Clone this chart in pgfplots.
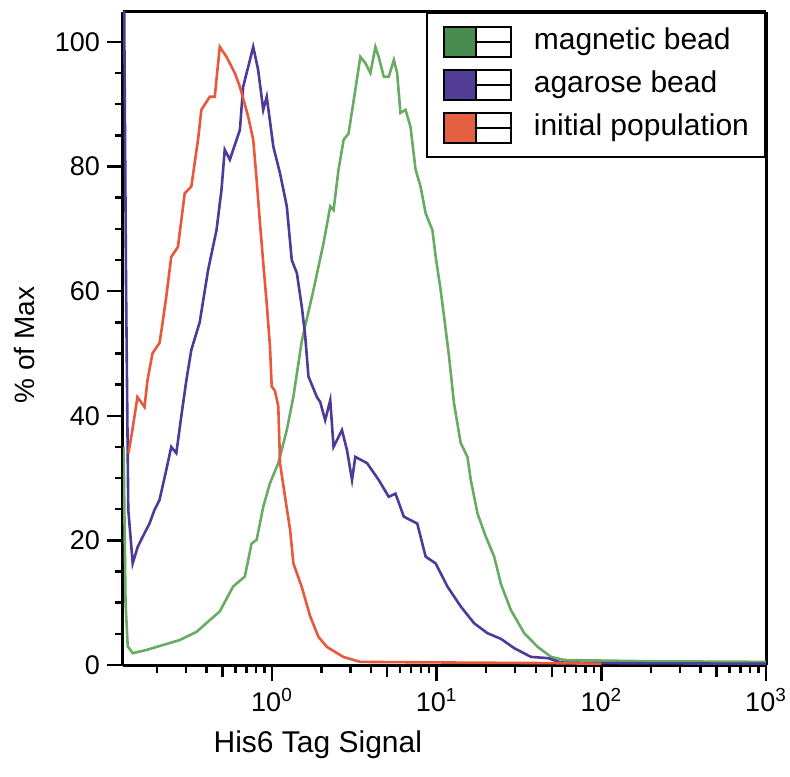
\documentclass[border=0pt]{standalone}
\usepackage{pgfplots}
\pgfplotsset{compat=1.18}
\usepackage{pgfplotstable}
\usepackage{fontspec}
\setmainfont{Liberation Sans}
\definecolor{gcol}{RGB}{104,172,100}
\definecolor{gsw}{RGB}{72,140,80}
\definecolor{bcol}{RGB}{78,58,152}
\definecolor{bsw}{RGB}{82,62,150}
\definecolor{rcol}{RGB}{232,88,58}
\definecolor{rsw}{RGB}{228,96,64}

\pgfplotstableread{
x y
0.1255 35
0.1290 10
0.1330 3
0.1426 1.9
0.1722 2.4
0.2173 3.2
0.2748 4.0
0.3475 5.3
0.4188 7.2
0.4819 8.6
0.5808 12.6
0.6839 14.2
0.7516 19.5
0.8070 20.1
0.8850 25.4
0.9727 29.2
1.092 32.4
1.230 37.7
1.349 43.1
1.517 52.0
1.786 60.2
2.056 67.7
2.258 73.6
2.365 73.0
2.535 79.5
2.723 84.3
2.917 85.3
3.206 92.3
3.440 97.6
3.690 96.6
3.960 95.0
4.246 99.2
4.446 97.6
4.775 94.4
5.117 94.4
5.495 97.1
5.754 95.0
6.026 88.6
6.471 89.1
6.934 86.4
7.447 79.5
7.980 76.8
8.570 72.5
9.419 69.8
9.863 65.5
10.57 60.2
11.09 55.9
11.89 49.5
12.74 42.0
14.00 35.6
15.38 33.4
16.11 29.7
17.71 24.3
19.89 20.6
22.35 17.4
24.55 13.0
28.25 8.8
34.05 5.1
41.11 2.9
49.55 1.3
59.70 0.8
200 0.6
1000 0.5
}\magnetic

\pgfplotstableread{
x y
0.1265 106
0.1300 60
0.1340 25
0.1426 16.3
0.1531 19.0
0.1641 20.6
0.1803 22.7
0.1935 24.9
0.2075 26.5
0.2280 31.3
0.2445 35.0
0.2624 34.0
0.2812 39.9
0.3020 45.7
0.3238 50.6
0.3639 55.0
0.4093 63.4
0.4603 69.8
0.4932 76.2
0.5164 82.7
0.5546 81.1
0.6095 84.3
0.6383 85.9
0.6683 92.8
0.7170 96.0
0.7691 99.2
0.8241 95.5
0.8850 89.1
0.9289 91.2
1.019 83.2
1.119 78.9
1.230 73.6
1.318 65.0
1.416 62.9
1.517 57.5
1.589 53.0
1.665 46.3
1.874 43.0
1.963 42.2
2.104 39.3
2.258 42.5
2.365 35.0
2.661 37.7
2.853 34.5
3.062 29.7
3.206 33.4
3.778 32.4
4.446 29.7
5.117 27.0
5.623 27.5
6.321 23.8
7.624 22.7
8.570 17.4
9.863 16.3
11.62 12.6
14.00 9.4
16.88 6.7
20.37 5.1
24.55 4.2
29.59 2.7
37.41 1.3
47.32 1.1
57.02 0.4
100 0.3
1000 0.2
}\agarose

\pgfplotstableread{
x y
0.1345 34.0
0.1419 37.7
0.1524 43.0
0.1682 41.4
0.1754 45.7
0.1880 50.0
0.2075 51.7
0.2134 53.8
0.2280 59.1
0.2445 65.5
0.2685 67.1
0.2951 75.7
0.3238 76.8
0.3555 84.3
0.3726 89.1
0.4188 91.2
0.4491 91.2
0.4819 99.2
0.5297 97.6
0.5947 95.0
0.6383 92.8
0.7170 88.0
0.7691 84.3
0.8070 77.8
0.8450 71.0
0.8850 64.5
0.9289 58.0
0.9727 51.0
0.9958 44.7
1.042 44.0
1.092 41.5
1.119 32.4
1.200 27.0
1.288 21.7
1.349 16.3
1.517 12.5
1.706 7.8
1.916 4.5
2.156 2.9
2.710 1.3
3.440 0.5
12.17 0.4
49.6 0.3
100 0.2
}\initial

\begin{document}
\begin{tikzpicture}
\begin{axis}[name=ax,
  scale only axis, width=321.5pt, height=326.5pt,
  xmode=log, xmin=0.1245, xmax=1000, ymin=0, ymax=104.8,
  separate axis lines,
  axis line style={line width=1.5pt, black},
  tick pos=left, tick align=outside,
  major tick length=8pt, minor tick length=4pt,
  every tick/.style={black, line width=1.2pt},
  xtick={1,10,100,1000},
  xticklabels={10\textsuperscript{0},10\textsuperscript{1},10\textsuperscript{2},10\textsuperscript{3}},
  minor xtick={0.2,0.3,0.4,0.6,0.7,0.8,0.9,2,3,4,6,7,8,9,20,30,40,60,70,80,90,200,300,400,600,700,800,900},
  extra x ticks={0.5,5,50,500}, extra x tick labels={},
  extra x tick style={major tick length=6pt},
  ytick={0,20,40,60,80,100},
  minor ytick={5,10,15,25,30,35,45,50,55,65,70,75,85,90,95},
  /pgf/number format/assume math mode=true,
  ticklabel style={font=\fontsize{13.5}{16}\selectfont},
  xlabel={His6 Tag Signal}, ylabel={\% of Max},
  xlabel style={at={(axis description cs:0.303,-0.1225)}, anchor=center, font=\fontsize{15}{18}\selectfont},
  ylabel style={at={(axis description cs:-0.153,0.49)}, anchor=center, font=\fontsize{14}{17}\selectfont},
  legend style={at={(1,1)}, anchor=north east, draw=black, line width=1pt, fill=white,
    inner xsep=8pt, inner ysep=3.75pt, row sep=0pt, column sep=11pt,
    font=\fontsize{15}{18}\selectfont,
    nodes={inner xsep=0pt, inner ysep=3.5pt, text height=11pt, text depth=3.5pt}},
  legend cell align=left,
]
\addplot[gcol, line width=1.3pt, legend image code/.code={
  \draw[black, line width=1pt, fill=gsw] (0pt,-7.5pt) rectangle (16pt,7.5pt);
  \draw[black, line width=1pt, fill=white] (16pt,-7.5pt) rectangle (33.5pt,7.5pt);
  \draw[black, line width=1pt] (16pt,0pt) -- (33.5pt,0pt);}] table[x=x,y=y] {\magnetic};
\addlegendentry{magnetic bead}
\addplot[bcol, line width=1.3pt, legend image code/.code={
  \draw[black, line width=1pt, fill=bsw] (0pt,-7.5pt) rectangle (16pt,7.5pt);
  \draw[black, line width=1pt, fill=white] (16pt,-7.5pt) rectangle (33.5pt,7.5pt);
  \draw[black, line width=1pt] (16pt,0pt) -- (33.5pt,0pt);}] table[x=x,y=y] {\agarose};
\addlegendentry{agarose bead}
\addplot[rcol, line width=1.3pt, legend image code/.code={
  \draw[black, line width=1pt, fill=rsw] (0pt,-7.5pt) rectangle (16pt,7.5pt);
  \draw[black, line width=1pt, fill=white] (16pt,-7.5pt) rectangle (33.5pt,7.5pt);
  \draw[black, line width=1pt] (16pt,0pt) -- (33.5pt,0pt);}] table[x=x,y=y] {\initial};
\addlegendentry{initial population}
\end{axis}
\pgfresetboundingbox
\path ([xshift=-61.5pt,yshift=-55.5pt]ax.south west) rectangle ([xshift=12pt,yshift=6pt]ax.north east);
\end{tikzpicture}
\end{document}
